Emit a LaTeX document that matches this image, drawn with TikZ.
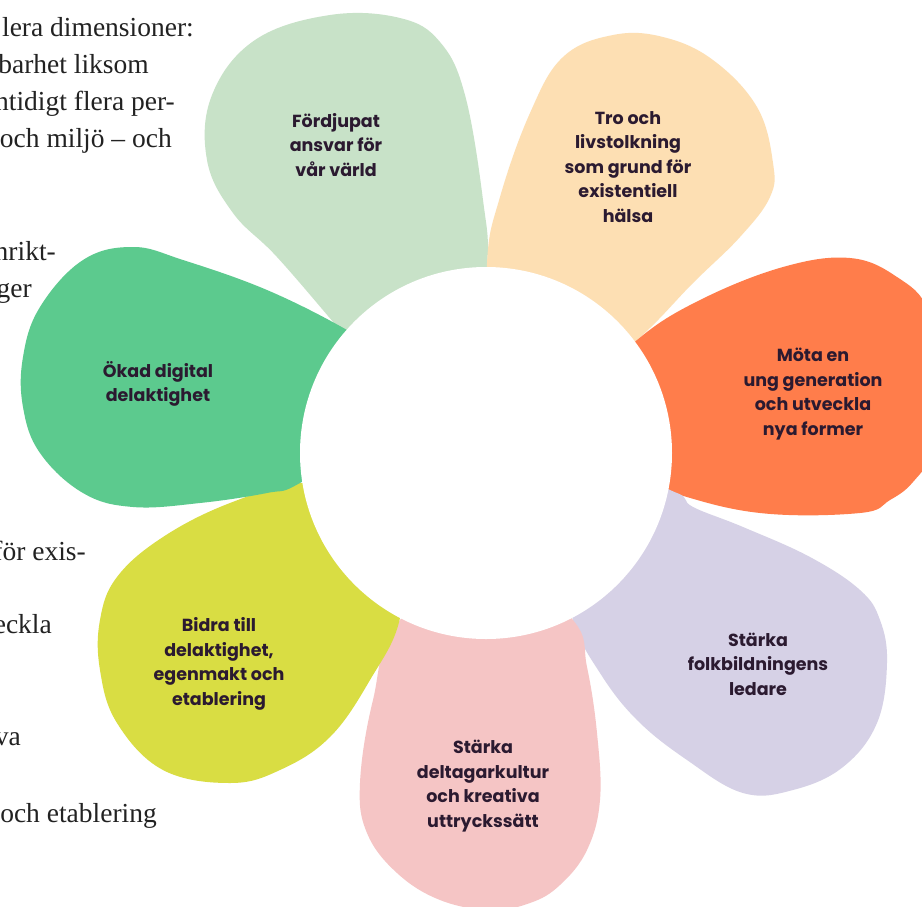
\documentclass[tikz,border=0pt]{standalone}
\usepackage{fontspec}
\setmainfont{Liberation Serif}
\newfontfamily\petalfont{Poppins}
\definecolor{pLightGreen}{HTML}{C8E2C8}
\definecolor{pPeach}{HTML}{FDDFB3}
\definecolor{pOrange}{HTML}{FF7D4B}
\definecolor{pLavender}{HTML}{D6D1E6}
\definecolor{pPink}{HTML}{F5C5C5}
\definecolor{pYellow}{HTML}{D9DD43}
\definecolor{pGreen}{HTML}{5CCA8E}
\definecolor{petalText}{HTML}{2B1A30}
\definecolor{bodyText}{HTML}{222222}
\tikzset{
  petaltext/.style={align=center, text=petalText, inner sep=0pt,
    font=\petalfont\bfseries\fontsize{17.5}{24.5}\selectfont},
  bodyline/.style={anchor=base east, inner sep=0pt, text=bodyText,
    font=\fontsize{27.5}{30}\selectfont},
  petal/.style={smooth cycle, tension=0.65}
}
\begin{document}
\begin{tikzpicture}[x=1pt,y=-1pt]
\useasboundingbox (0,0) rectangle (922,906);
\clip (0,0) rectangle (922,906);
\fill[white] (0,0) rectangle (922,906);

% body text on the left
\node[bodyline] (b1) at (194,36) {lera dimensioner:};
\node[bodyline] (b2) at (149,73) {barhet liksom};
\node[bodyline] (b3) at (175,110) {ntidigt flera per-};
\node[bodyline] (b4) at (172,147) {och miljö – och};
\node[bodyline] (b5) at (56,260) {nrikt-};
\node[bodyline] (b6) at (32,297) {ger};
\node[bodyline] (b7) at (86,560) {för exis-};
\node[bodyline] (b8) at (52,633) {eckla};
\node[bodyline] (b9) at (21,745) {va};
\node[bodyline] (b10) at (157,822) {och etablering};

% petals
\fill[pLightGreen] plot[petal] coordinates {(340,330) (277,257) (233,213) (207,160) (212,95) (255,40) (330,15) (400,18) (440,42) (465,95) (483,200) (487,268) (470,380) (400,400)};
\fill[pPeach] plot[petal] coordinates {(487,263) (500,197) (530,113) (563,57) (613,35) (663,37) (713,60) (757,107) (773,163) (770,197) (740,237) (693,283) (637,340) (560,400) (490,380)};
\fill[pOrange] plot[petal] coordinates {(637,340) (700,300) (783,267) (850,258) (897,277) (928,310) (940,380) (932,450) (913,482) (890,500) (860,513) (760,513) (670,492) (580,460) (580,400)};
\fill[pLavender] plot[petal] coordinates {(677,493) (693,507) (743,527) (810,557) (860,590) (880,620) (887,663) (877,723) (843,767) (793,790) (743,793) (687,760) (637,720) (600,673) (573,620) (560,540) (620,480)};
\fill[pPink] plot[petal] coordinates {(400,620) (373,700) (360,783) (367,833) (397,873) (440,900) (490,910) (530,903) (560,885) (587,850) (600,800) (597,733) (587,667) (573,620) (500,560)};
\fill[pYellow] plot[petal] coordinates {(303,483) (230,503) (163,537) (117,577) (100,620) (100,670) (117,723) (163,770) (230,783) (280,770) (330,737) (370,680) (400,618) (400,540) (350,500)};
\fill[pGreen] plot[petal] coordinates {(347,330) (267,290) (183,260) (133,247) (83,260) (40,307) (23,357) (23,407) (40,453) (83,493) (133,507) (200,503) (267,493) (300,483) (380,430) (390,360)};

% centre
\node[circle, fill=white, minimum size=372pt, inner sep=0pt] (centre) at (486,453) {};

% petal labels
\node[petaltext] (t1) at (336,145) {Fördjupat\\ansvar för\\vår värld};
\node[petaltext] (t2) at (628,167) {Tro och\\livstolkning\\som grund för\\existentiell\\hälsa};
\node[petaltext] (t3) at (813,394) {Möta en\\ung generation\\och utveckla\\nya former};
\node[petaltext] (t4) at (758,664) {Stärka\\folkbildningens\\ledare};
\node[petaltext] (t5) at (483,786) {Stärka\\deltagarkultur\\och kreativa\\uttryckssätt};
\node[petaltext] (t6) at (219,664) {Bidra till\\delaktighet,\\egenmakt och\\etablering};
\node[petaltext] (t7) at (158,384) {Ökad digital\\delaktighet};
\end{tikzpicture}
\end{document}
